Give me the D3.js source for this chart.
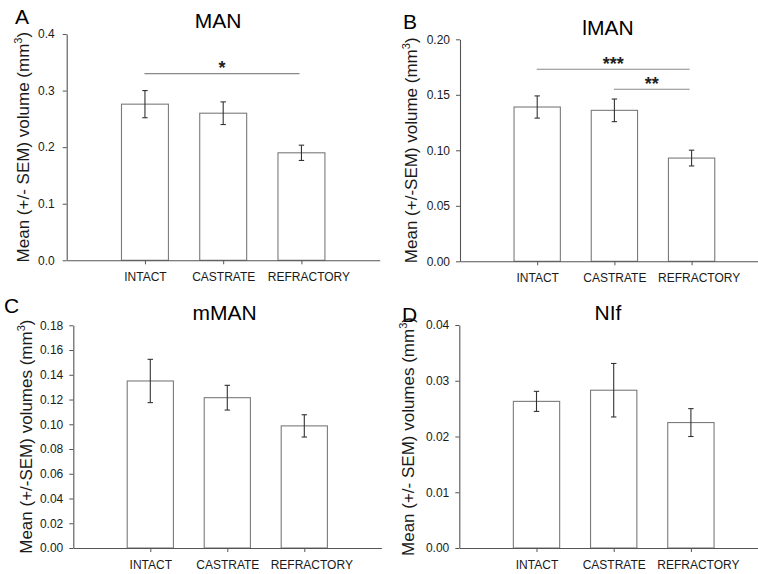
<!DOCTYPE html>
<html>
<head>
<meta charset="utf-8">
<script src="https://cdn.jsdelivr.net/npm/d3@7"></script>
<style>
  html, body { margin: 0; padding: 0; background: #fff; }
  svg { display: block; font-family: Arial, "Liberation Sans", sans-serif; }
</style>
</head>
<body>
<svg id="chart" width="758" height="574"></svg>
<script>
// ---- data ----
const categories = ["INTACT", "CASTRATE", "REFRACTORY"];

const manMean  = [0.276, 0.260, 0.190];
const manSem   = [0.024, 0.020, 0.0135];
const manTicks = [0, 0.1, 0.2, 0.3, 0.4];

const lmanMean  = [0.139, 0.136, 0.093];
const lmanSem   = [0.010, 0.0102, 0.0071];
const lmanTicks = [0, 0.05, 0.10, 0.15, 0.20];

const mmanMean  = [0.135, 0.1215, 0.0987];
const mmanSem   = [0.0175, 0.010, 0.009];
const mmanTicks = [0, 0.02, 0.04, 0.06, 0.08, 0.10, 0.12, 0.14, 0.16, 0.18];

const nifMean  = [0.0263, 0.0283, 0.0225];
const nifSem   = [0.0018, 0.0048, 0.0025];
const nifTicks = [0, 0.01, 0.02, 0.03, 0.04];

// significance brackets: [fromIndex, toIndex, yValue, label]
const manSig  = [[0, 2, 0.33, "*"]];
const lmanSig = [[0, 2, 0.173, "***"], [1, 2, 0.155, "**"]];
const mmanSig = [];
const nifSig  = [];

// ---- layout ----
const panels = [
  { letter: "A", title: "MAN",  mean: manMean,  sem: manSem,  ticks: manTicks,  fmt: ".1f", sig: manSig,
    ylabel: ["Mean (+/- SEM) volume (mm", ")"],
    x0: 66.7, step: 78.25, top: 34, bottom: 260.3, pad: 8,
    letterX: 15, letterY: 24, titleX: 218, titleY: 28, labelX: 28.5 },
  { letter: "B", title: "lMAN", mean: lmanMean, sem: lmanSem, ticks: lmanTicks, fmt: ".2f", sig: lmanSig,
    ylabel: ["Mean (+/-SEM) volume (mm", ")"],
    x0: 460, step: 77.2, top: 39.3, bottom: 261.3, pad: 6,
    letterX: 403, letterY: 29, titleX: 608, titleY: 35, labelX: 417 },
  { letter: "C", title: "mMAN", mean: mmanMean, sem: mmanSem, ticks: mmanTicks, fmt: ".2f", sig: mmanSig,
    ylabel: ["Mean (+/-SEM) volumes (mm", ")"],
    x0: 73.3, step: 77, top: 325.3, bottom: 548, pad: 6,
    letterX: 4, letterY: 313, titleX: 224.5, titleY: 320, labelX: 31.5 },
  { letter: "D", title: "NIf",  mean: nifMean,  sem: nifSem,  ticks: nifTicks,  fmt: ".2f", sig: nifSig,
    ylabel: ["Mean (+/- SEM) volumes (mm", ")"],
    x0: 459.3, step: 77.2, top: 325, bottom: 548, pad: 6,
    letterX: 402, letterY: 322, titleX: 608, titleY: 320, labelX: 413.5 }
];

const svg = d3.select("#chart");
const axisColor = "#555";
const textColor = "#1a1a1a";

panels.forEach(p => {
  const g = svg.append("g");
  const ymax = p.ticks[p.ticks.length - 1];
  const x = d3.scaleLinear().domain([0, 4]).range([p.x0, p.x0 + 4 * p.step]);
  const y = d3.scaleLinear().domain([0, ymax]).range([p.bottom, p.top]);
  const bw = 0.6 * p.step;
  const data = categories.map((c, i) => ({ c, i, m: p.mean[i], s: p.sem[i] }));

  // bars
  g.selectAll("rect.bar").data(data).enter().append("rect")
    .attr("class", "bar")
    .attr("x", d => x(d.i + 1) - bw / 2)
    .attr("y", d => y(d.m))
    .attr("width", bw)
    .attr("height", d => y(0) - y(d.m))
    .attr("fill", "#fff")
    .attr("stroke", "#7a7a7a")
    .attr("stroke-width", 1.1);

  // error bars
  const eb = g.selectAll("g.err").data(data).enter().append("g").attr("class", "err")
    .attr("stroke", "#333").attr("stroke-width", 1.1);
  eb.append("line")
    .attr("x1", d => x(d.i + 1)).attr("x2", d => x(d.i + 1))
    .attr("y1", d => y(d.m + d.s)).attr("y2", d => y(d.m - d.s));
  eb.append("line")
    .attr("x1", d => x(d.i + 1) - 2.7).attr("x2", d => x(d.i + 1) + 2.7)
    .attr("y1", d => y(d.m + d.s)).attr("y2", d => y(d.m + d.s));
  eb.append("line")
    .attr("x1", d => x(d.i + 1) - 2.7).attr("x2", d => x(d.i + 1) + 2.7)
    .attr("y1", d => y(d.m - d.s)).attr("y2", d => y(d.m - d.s));

  // axes
  const yAxis = d3.axisLeft(y).tickValues(p.ticks).tickFormat(d3.format(p.fmt))
    .tickSize(4).tickSizeOuter(0).tickPadding(p.pad);
  const ya = g.append("g").attr("transform", `translate(${p.x0},0)`).call(yAxis);

  const xAxis = d3.axisBottom(x).tickValues([1, 2, 3]).tickFormat(d => categories[d - 1])
    .tickSize(4).tickSizeOuter(0).tickPadding(8.5);
  const xa = g.append("g").attr("transform", `translate(0,${p.bottom})`).call(xAxis);
  xa.selectAll(".tick").filter(d => d === 3).select("text").attr("dx", 7);

  [ya, xa].forEach(a => {
    a.select(".domain").attr("stroke", axisColor).attr("stroke-width", 1.1);
    a.selectAll(".tick line").attr("stroke", axisColor).attr("stroke-width", 1);
    a.selectAll(".tick text").attr("fill", textColor).attr("font-size", 12)
      .attr("font-family", "Arial, 'Liberation Sans', sans-serif");
  });

  // significance brackets
  p.sig.forEach(s => {
    const x1 = x(s[0] + 1) - 0.5, x2 = x(s[1] + 1) - 2;
    const yy = y(s[2]);
    g.append("line").attr("x1", x1).attr("x2", x2).attr("y1", yy).attr("y2", yy)
      .attr("stroke", "#888").attr("stroke-width", 1.1);
    g.append("text").attr("x", (x1 + x2) / 2).attr("y", yy + 0.5)
      .attr("text-anchor", "middle").attr("font-size", 18).attr("font-weight", "bold")
      .attr("fill", "#222").text(s[3]);
  });

  // panel letter and title
  g.append("text").attr("x", p.letterX).attr("y", p.letterY)
    .attr("font-size", 21).attr("fill", "#000").text(p.letter);
  g.append("text").attr("x", p.titleX).attr("y", p.titleY).attr("text-anchor", "middle")
    .attr("font-size", 21).attr("fill", "#000").text(p.title);

  // y label
  const yl = g.append("text")
    .attr("transform", `translate(${p.labelX},${(p.top + p.bottom) / 2}) rotate(-90)`)
    .attr("text-anchor", "middle").attr("font-size", 17).attr("fill", textColor);
  yl.append("tspan").text(p.ylabel[0]);
  yl.append("tspan").attr("font-size", 11).attr("dy", -7).text("3");
  yl.append("tspan").attr("dy", 7).text(p.ylabel[1]);
});
</script>
</body>
</html>
